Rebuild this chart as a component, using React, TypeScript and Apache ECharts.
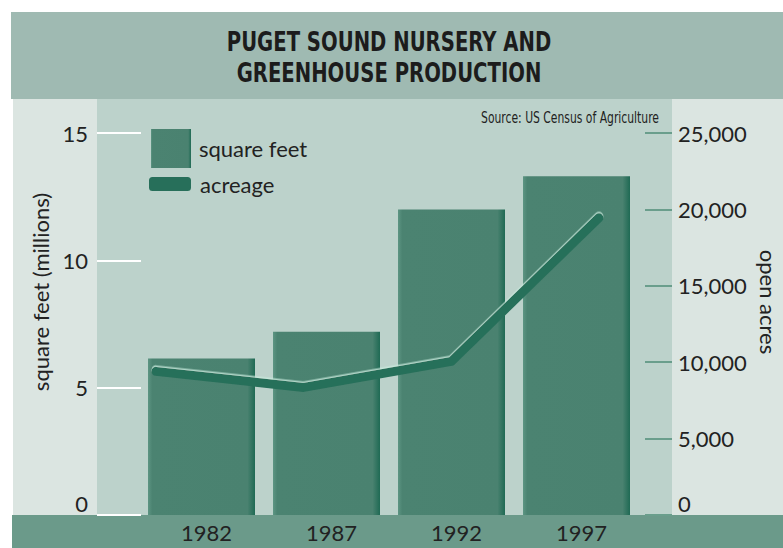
import React, { useEffect, useRef } from "react";
import * as echarts from "echarts";

const years = ["1982", "1987", "1992", "1997"];
const yearValues = [1982, 1987, 1992, 1997];
const squareFeet = [6.15, 7.2, 12.0, 13.3];
const acreage = [9400, 8350, 10050, 19450];

const titleLines = ["PUGET SOUND NURSERY AND", "GREENHOUSE PRODUCTION"];
const sourceText = "Source: US Census of Agriculture";
const leftAxisName = "square feet (millions)";
const rightAxisName = "open acres";
const seriesNames = ["square feet", "acreage"];

const FONT = "Lato, 'Open Sans', sans-serif";
const NARROW = "'Liberation Sans Narrow', 'DejaVu Sans Condensed', sans-serif";

export default function App() {
  const ref = useRef<HTMLDivElement>(null);
  useEffect(() => {
    if (!ref.current) return;
    const chart = echarts.init(ref.current, undefined, { renderer: "svg" });
    const fmtComma = (v: number) => v.toLocaleString("en-US");
    const zeroRich = {
      z: { fontSize: 22, color: "#222", fontFamily: FONT, padding: [0, 0, 24, 0] },
    };
    const barGrad = new echarts.graphic.LinearGradient(0, 0, 1, 0, [
      { offset: 0, color: "#5d9583" },
      { offset: 0.04, color: "#4b8371" },
      { offset: 0.93, color: "#4a8270" },
      { offset: 1, color: "#1f6a54" },
    ]);
    chart.setOption({
      animation: false,
      backgroundColor: "#ffffff",
      graphic: [
        { type: "rect", z: -10, shape: { x: 11, y: 12, width: 772, height: 87 }, style: { fill: "#9fbab2" } },
        { type: "rect", z: -10, shape: { x: 13, y: 99, width: 84, height: 416 }, style: { fill: "#dbe5e1" } },
        { type: "rect", z: -10, shape: { x: 97, y: 99, width: 575, height: 416 }, style: { fill: "#bcd2cb" } },
        { type: "rect", z: -10, shape: { x: 672, y: 99, width: 111, height: 416 }, style: { fill: "#dbe5e1" } },
        { type: "rect", z: -10, shape: { x: 12, y: 515, width: 771, height: 33 }, style: { fill: "#6b9a8a" } },
        {
          type: "text", x: 389, y: 42, scaleX: 0.84,
          style: { text: titleLines[0], fontSize: 26, fontWeight: "bold", fontFamily: NARROW, fill: "#1c1c1c", textAlign: "center", textVerticalAlign: "middle" },
        },
        {
          type: "text", x: 389, y: 73, scaleX: 0.84,
          style: { text: titleLines[1], fontSize: 26, fontWeight: "bold", fontFamily: NARROW, fill: "#1c1c1c", textAlign: "center", textVerticalAlign: "middle" },
        },
        {
          type: "text", x: 659, y: 117, scaleX: 0.8,
          style: { text: sourceText, fontSize: 15, fontFamily: NARROW, fill: "#222", textAlign: "right", textVerticalAlign: "middle" },
        },
        {
          type: "text", x: 40, y: 292, rotation: Math.PI / 2,
          style: { text: leftAxisName, fontSize: 22, fontFamily: FONT, fill: "#222", textAlign: "center", textVerticalAlign: "middle" },
        },
        {
          type: "text", x: 768, y: 302, rotation: -Math.PI / 2,
          style: { text: rightAxisName, fontSize: 22, fontFamily: FONT, fill: "#222", textAlign: "center", textVerticalAlign: "middle" },
        },
      ],
      legend: [
        {
          data: [{ name: seriesNames[0], icon: "rect" }],
          left: 151, top: 129, itemWidth: 40, itemHeight: 39, padding: 0,
          textStyle: { fontSize: 22, color: "#222", fontFamily: FONT, padding: [0, 0, 0, 3] },
          selectedMode: false,
        },
        {
          data: [{ name: seriesNames[1], icon: "roundRect" }],
          left: 149, top: 173, itemWidth: 42, itemHeight: 14, padding: 0,
          textStyle: { fontSize: 22, color: "#222", fontFamily: FONT, padding: [0, 0, 0, 4] },
          selectedMode: false,
        },
      ],
      grid: { left: 139, right: 144, top: 133, bottom: 33 },
      xAxis: [
        {
          type: "category",
          data: years,
          axisLine: { show: false },
          axisTick: { show: false },
          axisLabel: { fontSize: 22, color: "#222", fontFamily: FONT, margin: 6, padding: [0, 0, 0, 10] },
        },
        {
          type: "value",
          min: 1981.424,
          max: 1998.356,
          show: false,
        },
      ],
      yAxis: [
        {
          type: "value",
          min: 0, max: 15, interval: 5,
          position: "left",
          offset: -2,
          splitLine: { show: false },
          axisLine: { show: false },
          axisTick: { show: true, length: 44, lineStyle: { color: "#ffffff", width: 2 } },
          axisLabel: {
            fontSize: 22, color: "#222", fontFamily: FONT, margin: 53,
            formatter: (v: number) => (v === 0 ? "{z|0}" : String(v)),
            rich: zeroRich,
          },
        },
        {
          type: "value",
          min: 0, max: 25000, interval: 5000,
          position: "right",
          offset: 6,
          splitLine: { show: false },
          axisLine: { show: false },
          axisTick: { show: true, length: 27, lineStyle: { color: "#6a9e8c", width: 2 } },
          axisLabel: {
            fontSize: 22, color: "#222", fontFamily: FONT, margin: 33,
            formatter: (v: number) => (v === 0 ? "{z|0}" : fmtComma(v)),
            rich: zeroRich,
          },
        },
      ],
      series: [
        {
          name: seriesNames[0],
          type: "bar",
          xAxisIndex: 0,
          yAxisIndex: 0,
          data: squareFeet,
          barWidth: 107,
          itemStyle: { color: barGrad },
        },
        {
          name: seriesNames[1],
          type: "line",
          xAxisIndex: 1,
          yAxisIndex: 1,
          data: yearValues.map((y, i) => [y, acreage[i]]),
          showSymbol: false,
          symbol: "none",
          color: "#276f5a",
          lineStyle: {
            width: 9, color: "#276f5a", cap: "round", join: "round",
            shadowColor: "rgba(200,235,222,0.8)", shadowBlur: 1, shadowOffsetY: -1.5,
          },
          z: 5,
        },
      ],
    });
    return () => chart.dispose();
  }, []);
  return (
    <div
      ref={ref}
      style={{ position: "fixed", left: 0, top: 0, width: 783, height: 548 }}
    />
  );
}
